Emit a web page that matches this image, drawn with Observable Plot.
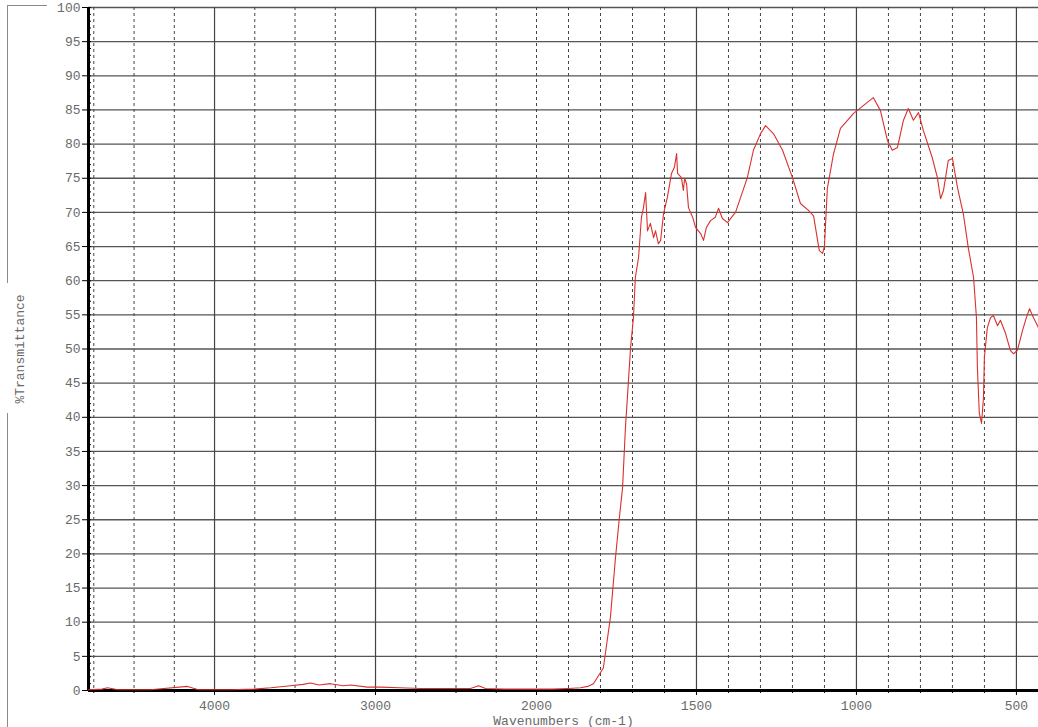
<!DOCTYPE html>
<html><head><meta charset="utf-8">
<script src="https://cdn.jsdelivr.net/npm/d3@7"></script>
<script src="https://cdn.jsdelivr.net/npm/@observablehq/plot@0.6"></script>
<style>
body{margin:0;background:#fff;}
#wrap{position:relative;width:1038px;height:727px;overflow:hidden;background:#fff;}
#wrap svg{position:absolute;left:0;top:0;}
.b{position:absolute;background:#8a8a8a;}
</style></head><body>
<div id="wrap">
 <div class="b" style="left:7px;top:5px;width:1px;height:278px"></div>
 <div class="b" style="left:7px;top:413px;width:1px;height:314px"></div>
 <div class="b" style="left:7px;top:5px;width:40px;height:1px"></div>
</div>
<script>
// Spectrum (wavenumber cm-1, %Transmittance)
const wavenumbers = [4783,4700,4665,4600,4400,4168,4100,3900,3758,3650,3528,3450,3404,3350,3280,3200,3155,3050,2969,2850,2720,2550,2410,2360,2317,2200,2037,1950,1900,1862,1840,1822,1791,1769,1753,1741,1731,1722,1712,1706,1697,1691,1681,1672,1666,1659,1653,1644,1634,1628,1619,1612,1603,1591,1578,1569,1562,1559,1547,1541,1537,1531,1525,1512,1503,1487,1478,1469,1456,1441,1431,1419,1403,1387,1378,1362,1341,1322,1300,1284,1259,1231,1200,1175,1150,1134,1119,1116,1106,1100,1091,1072,1050,1009,966,947,925,903,888,872,853,838,822,806,791,763,747,737,728,713,700,684,666,650,634,625,622,616,609,603,600,591,581,572,559,550,534,519,509,497,481,469,459,447,431];
const transmittance = [0.1,0.2,0.4,0.1,0.1,0.6,0.1,0.1,0.2,0.4,0.7,0.9,1.1,0.8,1.0,0.7,0.8,0.5,0.5,0.4,0.3,0.3,0.3,0.7,0.3,0.2,0.2,0.2,0.3,0.4,0.6,1.0,3.3,10.7,19.5,25.3,29.7,38.5,45.8,50.2,54.6,60.5,63.4,69.3,70.6,72.9,67.3,68.4,66.3,67.3,65.4,65.9,69.8,72.2,75.7,76.6,78.6,75.7,75.1,73.2,75.0,74.2,70.7,69.3,67.8,66.9,65.9,67.8,68.8,69.3,70.6,69.1,68.5,69.5,70.0,72.2,75.1,79.1,81.5,82.7,81.5,79.1,75.1,71.3,70.3,69.5,65.2,64.4,64.0,65.0,73.5,78.5,82.3,84.5,86.1,86.8,84.9,80.5,79.1,79.5,83.5,85.2,83.5,84.6,82.0,78.0,75.1,72.0,73.2,77.6,77.9,73.6,69.8,64.7,60.5,54.6,47.3,40.6,39.1,42.9,48.8,53.1,54.6,54.9,53.4,54.2,52.3,49.8,49.3,49.8,52.7,54.6,55.9,54.6,53.1];

// Axis / tick definitions
const xDomain = [4783, 2000, 431];           // piecewise scale: change of scale at 2000 cm-1
const xMajorTicks = [4000, 3000, 2000, 1500, 1000, 500];
const xSolidGrid = [4000, 3000, 1500, 1000, 500];
const xDashedGrid = [4750,4500,4250,3750,3500,3250,2750,2500,2250,2000,1900,1800,1700,1600,1400,1300,1200,1100,900,800,700,600];
const yTicks = d3.range(0, 101, 5);
const yMinorTicks = d3.range(0, 101, 1);

const data = wavenumbers.map((w, i) => ({w, t: transmittance[i]}));
const mono = "'Liberation Mono', 'DejaVu Sans Mono', monospace";

const chart = Plot.plot({
  width: 1038,
  height: 727,
  marginLeft: 88,
  marginRight: 0,
  marginTop: 7,
  marginBottom: 37,
  style: {background: "transparent", fontFamily: mono},
  x: {type: "linear", domain: xDomain, range: [88, 536, 1038]},
  y: {domain: [0, 100], range: [690, 7]},
  marks: [
    Plot.gridY(yTicks, {stroke: "#555", strokeOpacity: 1, strokeWidth: 1.3}),
    Plot.gridX(xDashedGrid, {stroke: "#444", strokeOpacity: 1, strokeDasharray: "3,3"}),
    Plot.gridX(xSolidGrid, {stroke: "#444", strokeOpacity: 1, strokeWidth: 1.2}),
    Plot.axisY(yMinorTicks, {tickSize: -3, tickFormat: () => "", label: null}),
    Plot.axisY(yTicks, {tickSize: 6, tickPadding: 2, fontSize: 13, fill: "#6a6a6a",
      label: "%Transmittance", labelAnchor: "center", labelOffset: 74, labelArrow: "none"}),
    Plot.axisX(xDashedGrid, {tickSize: 3, tickFormat: () => "", label: null}),
    Plot.axisX(xMajorTicks, {tickSize: 5, tickPadding: 5, fontSize: 13, fill: "#6a6a6a", tickFormat: d => String(d),
      label: "Wavenumbers (cm-1)", labelAnchor: "center", labelOffset: 34, labelArrow: "none"}),
    Plot.ruleY([0], {stroke: "#000", strokeWidth: 3}),
    Plot.ruleX([xDomain[0]], {stroke: "#000", strokeWidth: 3}),
    Plot.line(data, {x: "w", y: "t", stroke: "#d8312f", strokeWidth: 1.1})
  ]
});
document.getElementById("wrap").appendChild(chart);
</script>
</body></html>
